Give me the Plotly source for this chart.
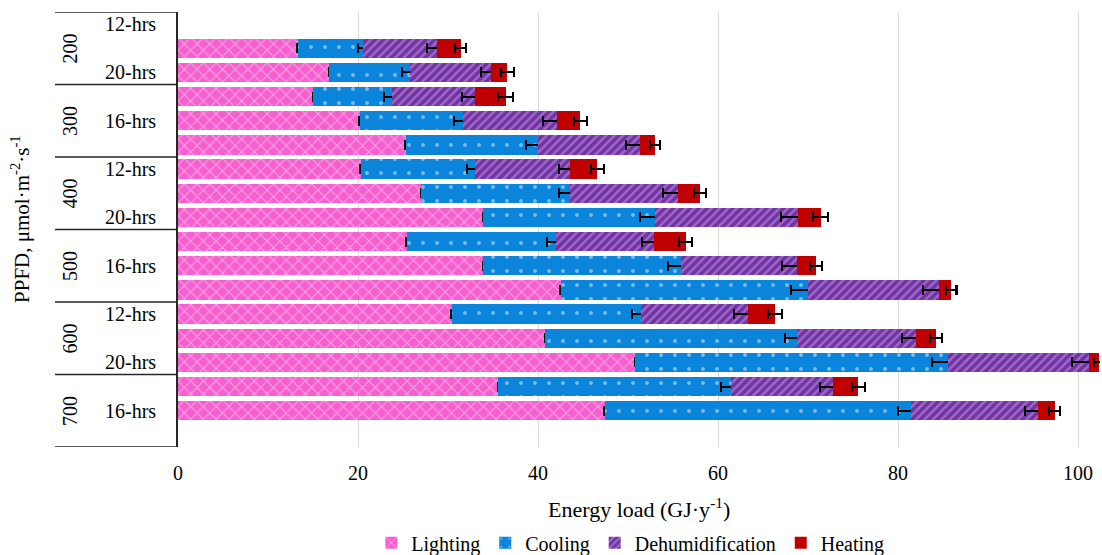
import plotly.graph_objects as go

# Slots run top to bottom: PPFD group x photoperiod (12, 16, 20 hrs)
ppfd_levels = ["200", "300", "400", "500", "600", "700"]
photoperiods = ["12-hrs", "16-hrs", "20-hrs"]

# Segment lengths (GJ·y-1) per slot; None = no bar for that combination
lighting = [None, 13.3, 16.8, 15.0, 20.2, 25.3, 20.3, 27.0, 33.9,
            25.4, 33.9, 42.5, 30.4, 40.8, 50.8, 35.6, 47.4, None]
cooling = [None, 7.3, 9.0, 8.8, 11.5, 14.7, 12.7, 16.6, 19.1,
           16.6, 22.0, 27.5, 21.0, 28.0, 34.8, 25.8, 34.0, None]
dehumidification = [None, 8.2, 9.0, 9.2, 10.4, 11.3, 10.6, 11.9, 15.9,
                    10.9, 12.9, 14.6, 11.9, 13.2, 15.6, 11.4, 14.1, None]
heating = [None, 2.6, 1.8, 3.4, 2.6, 1.7, 3.0, 2.5, 2.5,
           3.5, 2.1, 1.3, 3.0, 2.2, 1.1, 2.8, 1.9, None]

# Standard errors at the end of each stacked segment
lighting_err = [0, 0.05, 0.05, 0.05, 0.05, 0.05, 0.05, 0.05, 0.05,
                0.05, 0.05, 0.05, 0.05, 0.05, 0.05, 0.05, 0.05, 0]
cooling_err = [0, 0.6, 0.9, 0.9, 1.0, 1.3, 0.9, 1.3, 1.7,
               1.0, 1.5, 1.9, 1.0, 1.4, 1.8, 1.1, 1.4, 0]
dehumidification_err = [0, 1.1, 1.1, 1.5, 1.5, 1.5, 1.3, 1.6, 1.9,
                        1.4, 1.7, 1.8, 1.5, 1.6, 1.9, 1.5, 1.4, 0]
heating_err = [0, 0.6, 0.7, 0.8, 0.7, 0.6, 0.7, 0.7, 0.8,
               0.7, 0.7, 0.6, 0.8, 0.7, 0.5, 0.7, 0.6, 0]

x_ticks = [0, 20, 40, 60, 80, 100]

slots = list(range(len(ppfd_levels) * len(photoperiods)))
FONT = "Liberation Serif, Times New Roman, serif"

series = [
    ("Lighting", lighting, lighting_err,
     dict(shape="x", bgcolor="#f55fcf", fgcolor="#ffe0f6", size=9, solidity=0.24)),
    ("Cooling", cooling, cooling_err,
     dict(shape=".", bgcolor="#0b84dc", fgcolor="#e8f4ff", size=14, solidity=0.06)),
    ("Dehumidification", dehumidification, dehumidification_err,
     dict(shape="/", bgcolor="#7232a4", fgcolor="#c8a5e6", size=6, solidity=0.4)),
    ("Heating", heating, heating_err, None),
]

fig = go.Figure()
for name, vals, errs, pat in series:
    marker = dict(line=dict(width=0))
    if pat:
        marker["color"] = pat["bgcolor"]
        marker["pattern"] = pat
    else:
        marker["color"] = "#c00000"
    fig.add_trace(go.Bar(
        name=name, y=slots, x=vals, orientation="h", marker=marker,
        error_x=dict(type="data", array=errs, visible=True,
                     color="black", thickness=2, width=5),
    ))

# Category box on the left: separators between PPFD groups
shapes = []
n_per = len(photoperiods)
for g in range(len(ppfd_levels) + 1):
    yb = g * n_per - 0.5
    shapes.append(dict(type="line", xref="paper", yref="y",
                       x0=-0.1334, x1=0, y0=yb, y1=yb,
                       line=dict(color="#262626", width=1.5)))

annotations = []
for g, lvl in enumerate(ppfd_levels):
    annotations.append(dict(
        text=lvl, xref="paper", yref="y", x=-0.117, y=g * n_per + 1,
        textangle=-90, showarrow=False, xanchor="center", yanchor="middle",
        font=dict(family=FONT, size=20, color="black")))
# photoperiod labels, every second slot
for s in slots[::2]:
    annotations.append(dict(
        text=photoperiods[s % n_per], xref="paper", yref="y", x=-0.0217, y=s,
        showarrow=False, xanchor="right", yanchor="middle",
        font=dict(family=FONT, size=20, color="black")))

annotations.append(dict(
    text="PPFD, μmol·m<sup>-2</sup>·s<sup>-1</sup>", xref="paper", yref="paper",
    x=-0.171, y=0.525, textangle=-90, showarrow=False,
    xanchor="center", yanchor="middle",
    font=dict(family=FONT, size=21, color="black")))
annotations.append(dict(
    text="Energy load (GJ·y<sup>-1</sup>)", xref="paper", yref="paper",
    x=0.5, y=-0.14, showarrow=False, xanchor="center", yanchor="middle",
    font=dict(family=FONT, size=22, color="black")))

fig.update_layout(
    width=1102, height=555,
    margin=dict(l=178, r=2, t=12, b=108),
    barmode="stack", bargap=0.2,
    plot_bgcolor="white", paper_bgcolor="white",
    font=dict(family=FONT, size=20, color="black"),
    shapes=shapes, annotations=annotations,
    legend=dict(orientation="h", traceorder="normal",
                xref="container", yref="container",
                x=0.572, xanchor="center", y=0.022, yanchor="middle",
                font=dict(family=FONT, size=20, color="black"),
                itemwidth=30, tracegroupgap=0),
    xaxis=dict(range=[0, 102.44], tickvals=x_ticks, showgrid=True,
               gridcolor="#d9d9d9", gridwidth=1, zeroline=False,
               showline=False, ticks="", ticklabelstandoff=12,
               tickfont=dict(family=FONT, size=20, color="black")),
    yaxis=dict(range=[17.5, -0.5], showticklabels=False, showgrid=False,
               zeroline=False, showline=True, linecolor="#262626", linewidth=1.5,
               ticks=""),
)

fig.write_html("out.html")
